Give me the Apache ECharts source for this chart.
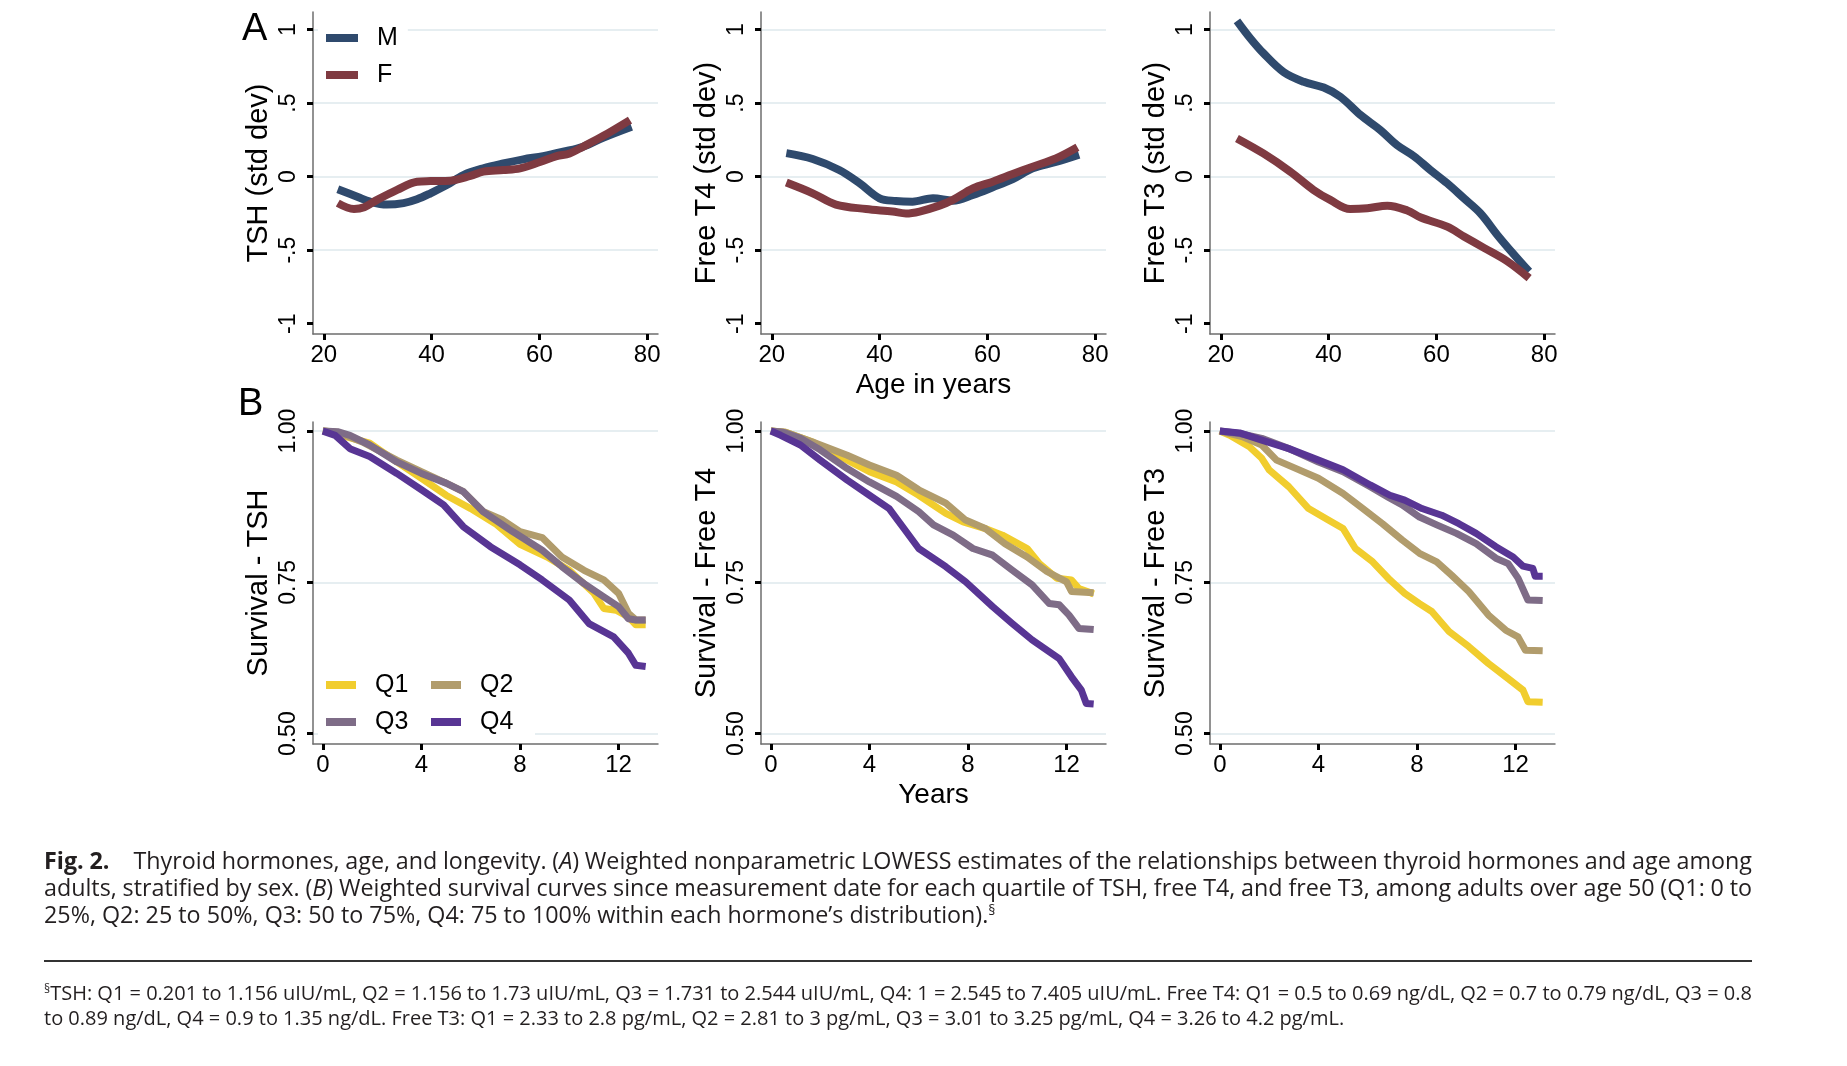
<!DOCTYPE html>
<html>
<head>
<meta charset="utf-8">
<script src="https://cdn.jsdelivr.net/npm/echarts@6/dist/echarts.min.js"></script>
<style>
html,body{margin:0;padding:0;background:#fff;}
#chart{position:absolute;left:0;top:0;width:1847px;height:1066px;}
.ln{position:absolute;left:44px;white-space:nowrap;font-family:'Open Sans',sans-serif;color:#231f20;}
.cap{font-size:23.3px;line-height:27px;}
.fn{font-size:20px;line-height:25px;}
.ln sup{font-size:0.6em;vertical-align:0.55em;line-height:0;}
#rule{position:absolute;left:44px;top:960px;width:1708px;height:2px;background:#333;}
</style>
</head>
<body>
<div id="chart"></div>
<div class="ln cap" id="c1" style="top:847px;"><b>Fig. 2.</b><span style="display:inline-block;width:24px;"></span>Thyroid hormones, age, and longevity. (<i>A</i>) Weighted nonparametric LOWESS estimates of the relationships between thyroid hormones and age among</div>
<div class="ln cap" id="c2" style="top:874px;">adults, stratified by sex. (<i>B</i>) Weighted survival curves since measurement date for each quartile of TSH, free T4, and free T3, among adults over age 50 (Q1: 0 to</div>
<div class="ln cap" id="c3" style="top:901px;">25%, Q2: 25 to 50%, Q3: 50 to 75%, Q4: 75 to 100% within each hormone’s distribution).<sup>§</sup></div>
<div id="rule"></div>
<div class="ln fn" id="f1" style="top:980px;"><sup>§</sup>TSH: Q1 = 0.201 to 1.156 uIU/mL, Q2 = 1.156 to 1.73 uIU/mL, Q3 = 1.731 to 2.544 uIU/mL, Q4: 1 = 2.545 to 7.405 uIU/mL. Free T4: Q1 = 0.5 to 0.69 ng/dL, Q2 = 0.7 to 0.79 ng/dL, Q3 = 0.8</div>
<div class="ln fn" id="f2" style="top:1005px;">to 0.89 ng/dL, Q4 = 0.9 to 1.35 ng/dL. Free T3: Q1 = 2.33 to 2.8 pg/mL, Q2 = 2.81 to 3 pg/mL, Q3 = 3.01 to 3.25 pg/mL, Q4 = 3.26 to 4.2 pg/mL.</div>
<script>
// ---------- tick labels ----------
const stdTicks = [-1, -0.5, 0, 0.5, 1];
const stdTickLabels = ['-1', '-.5', '0', '.5', '1'];
const survTicks = [0.5, 0.75, 1];
const survTickLabels = ['0.50', '0.75', '1.00'];
const ageTicks = [20, 40, 60, 80];
const yearTicks = [0, 4, 8, 12];

// ---------- Panel A: LOWESS (std dev) by age ----------
const tshAgeM = [22.6, 26.2, 28.6, 31.7, 34.8, 37.3, 39.8, 42.8, 45.9, 49.6, 53.3, 57, 60.7, 64.4, 68.1, 71.8, 77.1];
const tshM    = [-0.086, -0.136, -0.17, -0.19, -0.18, -0.154, -0.113, -0.057, 0.011, 0.057, 0.09, 0.118, 0.14, 0.17, 0.204, 0.265, 0.34];
const tshAgeF = [22.6, 25.6, 27.5, 29.9, 33.6, 37.3, 39.8, 43.5, 47.2, 49.6, 53.3, 56.4, 60.1, 63.2, 65.6, 68.1, 71.8, 76.8];
const tshF    = [-0.18, -0.22, -0.208, -0.158, -0.09, -0.034, -0.03, -0.027, 0.005, 0.034, 0.045, 0.057, 0.1, 0.14, 0.158, 0.204, 0.276, 0.385];

const ft4AgeM = [22.7, 27.6, 32.5, 36.3, 40, 43, 46.1, 49.9, 53.6, 57.3, 61, 64.7, 68.4, 72.7, 77];
const ft4M    = [0.16, 0.12, 0.045, -0.045, -0.147, -0.165, -0.17, -0.147, -0.163, -0.124, -0.072, -0.016, 0.057, 0.1, 0.15];
const ft4AgeF = [22.7, 27.6, 31.9, 37.5, 42.4, 44.9, 47.4, 51.1, 53.6, 57.3, 61, 64.7, 68.4, 72.7, 76.7];
const ft4F    = [-0.04, -0.113, -0.19, -0.22, -0.237, -0.25, -0.237, -0.197, -0.158, -0.08, -0.034, 0.018, 0.068, 0.124, 0.2];

const ft3AgeM = [23, 25.5, 27.9, 31.7, 35.4, 39.1, 42.2, 45.9, 49.6, 52.7, 55.8, 58.9, 62, 65.1, 68.2, 71.3, 74.4, 77.2];
const ft3M    = [1.06, 0.94, 0.84, 0.71, 0.645, 0.606, 0.543, 0.42, 0.317, 0.215, 0.14, 0.045, -0.045, -0.147, -0.25, -0.396, -0.53, -0.645];
const ft3AgeF = [23, 27.9, 32.9, 37.2, 40.3, 44, 47.2, 50.9, 54.6, 57.1, 62, 65.1, 68.9, 73.2, 77.2];
const ft3F    = [0.26, 0.158, 0.034, -0.09, -0.158, -0.22, -0.215, -0.197, -0.23, -0.278, -0.34, -0.407, -0.486, -0.577, -0.69];

// ---------- Panel B: survival by quartile ----------
const tshQ1t = [0, 0.5, 1, 1.9, 3, 4, 5, 6, 7, 8, 9.1, 10, 11, 11.4, 11.9, 12.4, 12.7, 13.1];
const tshQ1s = [1, 0.998, 0.99, 0.98, 0.949, 0.922, 0.894, 0.872, 0.847, 0.813, 0.792, 0.77, 0.732, 0.707, 0.704, 0.693, 0.68, 0.68];
const tshQ2t = [0, 0.6, 1.6, 3, 4, 5, 5.7, 6.5, 7.3, 8, 8.9, 9.7, 10.6, 11.4, 12, 12.4, 12.7, 13.1];
const tshQ2s = [1, 0.998, 0.982, 0.952, 0.933, 0.914, 0.9, 0.867, 0.853, 0.834, 0.824, 0.792, 0.77, 0.754, 0.732, 0.699, 0.688, 0.688];
const tshQ3t = [0, 0.6, 1.1, 1.9, 3, 4, 5, 5.7, 6.5, 7.7, 8.9, 9.7, 10.6, 11.4, 12, 12.4, 12.7, 13.1];
const tshQ3s = [1, 0.999, 0.993, 0.977, 0.949, 0.93, 0.914, 0.9, 0.867, 0.834, 0.803, 0.776, 0.748, 0.726, 0.71, 0.69, 0.688, 0.688];
const tshQ4t = [0, 0.5, 1.1, 1.9, 3, 4, 4.9, 5.7, 6.8, 8, 8.9, 10, 10.8, 11.8, 12.4, 12.7, 13.1];
const tshQ4s = [1, 0.993, 0.971, 0.958, 0.93, 0.903, 0.878, 0.842, 0.809, 0.779, 0.754, 0.721, 0.682, 0.66, 0.633, 0.613, 0.611];

const ft4Q1t = [0, 0.6, 1.7, 3.1, 4, 5.1, 6, 7.1, 7.8, 8.7, 9.4, 10.4, 10.9, 11.6, 12.2, 12.5, 13.1];
const ft4Q1s = [1, 0.998, 0.982, 0.952, 0.933, 0.916, 0.894, 0.864, 0.85, 0.839, 0.828, 0.806, 0.781, 0.757, 0.754, 0.74, 0.731];
const ft4Q2t = [0, 0.6, 1.7, 3.1, 4, 5.1, 6, 7.1, 7.9, 8.7, 9.5, 10.4, 11.2, 12, 12.2, 13.1];
const ft4Q2s = [1, 0.998, 0.982, 0.96, 0.944, 0.927, 0.903, 0.881, 0.853, 0.839, 0.814, 0.792, 0.768, 0.751, 0.735, 0.733];
const ft4Q3t = [0, 0.5, 1.2, 2, 3.1, 4, 5.1, 6, 6.6, 7.4, 8.2, 9, 9.8, 10.6, 11.3, 11.7, 12.1, 12.5, 13.1];
const ft4Q3s = [1, 0.998, 0.988, 0.969, 0.938, 0.916, 0.892, 0.867, 0.845, 0.828, 0.806, 0.795, 0.77, 0.746, 0.715, 0.713, 0.696, 0.674, 0.672];
const ft4Q4t = [0, 0.4, 1.2, 2, 3.1, 4, 4.8, 5.4, 6, 7.1, 7.9, 9, 9.8, 10.6, 11.7, 12.2, 12.6, 12.8, 13.1];
const ft4Q4s = [1, 0.993, 0.977, 0.952, 0.919, 0.894, 0.872, 0.839, 0.806, 0.776, 0.751, 0.71, 0.682, 0.655, 0.624, 0.594, 0.572, 0.55, 0.549];

const ft3Q1t = [0, 0.4, 1.2, 1.7, 2, 2.8, 3.6, 4.4, 5, 5.5, 6.2, 6.9, 7.5, 8.1, 8.6, 9.3, 10.1, 10.9, 11.7, 12.3, 12.5, 13.1];
const ft3Q1s = [1, 0.993, 0.974, 0.955, 0.936, 0.908, 0.872, 0.853, 0.839, 0.806, 0.784, 0.754, 0.732, 0.715, 0.702, 0.669, 0.644, 0.616, 0.591, 0.572, 0.553, 0.552];
const ft3Q2t = [0, 0.9, 1.7, 2.3, 3.1, 4, 5, 5.8, 6.6, 7.4, 8.1, 8.8, 9.4, 10.1, 10.9, 11.6, 12.1, 12.4, 13.1];
const ft3Q2s = [1, 0.991, 0.977, 0.952, 0.938, 0.922, 0.897, 0.872, 0.847, 0.82, 0.798, 0.784, 0.762, 0.735, 0.696, 0.671, 0.66, 0.638, 0.637];
const ft3Q3t = [0, 0.8, 1.7, 2.8, 4, 5, 6.1, 6.9, 7.4, 8.1, 8.8, 9.6, 10.4, 11.2, 11.7, 12.1, 12.5, 13.1];
const ft3Q3s = [1, 0.996, 0.988, 0.971, 0.949, 0.933, 0.908, 0.889, 0.878, 0.858, 0.845, 0.831, 0.814, 0.79, 0.781, 0.757, 0.721, 0.72];
const ft3Q4t = [0, 0.8, 1.7, 2.8, 4, 5, 6.1, 6.9, 7.5, 8.2, 9, 9.7, 10.4, 11.2, 11.9, 12.3, 12.7, 12.8, 13.1];
const ft3Q4s = [1, 0.997, 0.985, 0.971, 0.952, 0.936, 0.911, 0.894, 0.886, 0.872, 0.861, 0.847, 0.831, 0.809, 0.792, 0.777, 0.773, 0.76, 0.76];

// ---------- styling ----------
const FONT = "'Liberation Sans', Arial, Helvetica, sans-serif";
const COL = { M: '#2f4a6d', F: '#7f3a41', Q1: '#f1cd2e', Q2: '#b19c6c', Q3: '#7e6c87', Q4: '#583594' };
const GRID_COL = '#e6eef1';
const AXIS_COL = '#6e6e6e';

function labelFor(ticks, labels) {
  return v => { const i = ticks.findIndex(t => Math.abs(t - v) < 1e-6); return i >= 0 ? labels[i] : ''; };
}

const gridPos = [
  { left: 313, top: 12, width: 345, height: 322 },
  { left: 761, top: 12, width: 345, height: 322 },
  { left: 1210, top: 12, width: 345, height: 322 },
  { left: 313, top: 422, width: 345, height: 322 },
  { left: 761, top: 422, width: 345, height: 322 },
  { left: 1210, top: 422, width: 345, height: 322 }
];

function yAxis(i, name, isA) {
  const ticks = isA ? stdTicks : survTicks;
  const labels = isA ? stdTickLabels : survTickLabels;
  return {
    gridIndex: i, type: 'value',
    min: isA ? -1.07 : 0.483, max: isA ? 1.12 : 1.015,
    name: name, nameLocation: 'middle', nameGap: 40, nameRotate: 90,
    nameTextStyle: { fontFamily: FONT, fontSize: 29, color: '#000' },
    axisLine: { show: true, onZero: false, lineStyle: { color: AXIS_COL, width: 1.5 } },
    axisTick: { show: true, length: 6, customValues: ticks, lineStyle: { color: '#000', width: 3 } },
    axisLabel: { customValues: ticks, rotate: 90, margin: 13, fontFamily: FONT, fontSize: 23, color: '#000', formatter: labelFor(ticks, labels) },
    splitLine: { show: true, lineStyle: { color: isA ? ['rgba(0,0,0,0)', GRID_COL, GRID_COL, GRID_COL, GRID_COL] : GRID_COL, width: 2 } }
  };
}
function xAxis(i, name, isA) {
  const ticks = isA ? ageTicks : yearTicks;
  return {
    gridIndex: i, type: 'value',
    min: isA ? 18 : -0.4, max: isA ? 82 : 13.6,
    name: name, nameLocation: 'middle', nameGap: 37,
    nameTextStyle: { fontFamily: FONT, fontSize: 28, color: '#000' },
    axisLine: { show: true, onZero: false, lineStyle: { color: AXIS_COL, width: 1.5 } },
    axisTick: { show: true, length: 6, customValues: ticks, lineStyle: { color: '#000', width: 3 } },
    axisLabel: { customValues: ticks, margin: 9, fontFamily: FONT, fontSize: 24, color: '#000' },
    splitLine: { show: false }
  };
}
function line(name, xs, ys, idx, width, smooth) {
  return {
    type: 'line', name: name, xAxisIndex: idx, yAxisIndex: idx,
    data: xs.map((x, k) => [x, ys[k]]),
    showSymbol: false, symbol: 'none', smooth: smooth, silent: true,
    lineStyle: { color: COL[name], width: width, cap: 'butt', join: 'round' },
    itemStyle: { color: COL[name] }
  };
}

const series = [
  line('M', tshAgeM, tshM, 0, 8, 0.35), line('F', tshAgeF, tshF, 0, 8, 0.35),
  line('M', ft4AgeM, ft4M, 1, 8, 0.35), line('F', ft4AgeF, ft4F, 1, 8, 0.35),
  line('M', ft3AgeM, ft3M, 2, 8, 0.35), line('F', ft3AgeF, ft3F, 2, 8, 0.35),
  line('Q1', tshQ1t, tshQ1s, 3, 7, false), line('Q2', tshQ2t, tshQ2s, 3, 7, false),
  line('Q3', tshQ3t, tshQ3s, 3, 7, false), line('Q4', tshQ4t, tshQ4s, 3, 7, false),
  line('Q1', ft4Q1t, ft4Q1s, 4, 7, false), line('Q2', ft4Q2t, ft4Q2s, 4, 7, false),
  line('Q3', ft4Q3t, ft4Q3s, 4, 7, false), line('Q4', ft4Q4t, ft4Q4s, 4, 7, false),
  line('Q1', ft3Q1t, ft3Q1s, 5, 7, false), line('Q2', ft3Q2t, ft3Q2s, 5, 7, false),
  line('Q3', ft3Q3t, ft3Q3s, 5, 7, false), line('Q4', ft3Q4t, ft3Q4s, 5, 7, false)
];

const legendText = { fontFamily: FONT, fontSize: 25, color: '#000', lineHeight: 26, padding: [0, 0, 0, 14] };

const option = {
  animation: false,
  backgroundColor: '#fff',
  grid: gridPos.map(g => Object.assign({ containLabel: false }, g)),
  xAxis: [
    xAxis(0, '', true), xAxis(1, 'Age in years', true), xAxis(2, '', true),
    xAxis(3, '', false), xAxis(4, 'Years', false), xAxis(5, '', false)
  ],
  yAxis: [
    yAxis(0, 'TSH (std dev)', true), yAxis(1, 'Free T4 (std dev)', true), yAxis(2, 'Free T3 (std dev)', true),
    yAxis(3, 'Survival - TSH', false), yAxis(4, 'Survival - Free T4', false), yAxis(5, 'Survival - Free T3', false)
  ],
  legend: [
    { data: ['M', 'F'], orient: 'vertical', left: 318, top: 17, icon: 'rect', itemWidth: 32, itemHeight: 8, itemGap: 11,
      padding: [8, 10, 8, 8], backgroundColor: '#fff', selectedMode: false, itemStyle: { borderWidth: 0 },
      textStyle: legendText },
    { data: ['Q1', 'Q2', 'Q3', 'Q4'], orient: 'horizontal', left: 318, top: 664, width: 215, icon: 'rect', itemWidth: 30, itemHeight: 8, itemGap: 11,
      padding: [8, 10, 8, 8], backgroundColor: '#fff', selectedMode: false, itemStyle: { borderWidth: 0 },
      textStyle: Object.assign({}, legendText, { width: 45 }) }
  ],
  graphic: [
    { type: 'text', left: 242, top: 11, style: { text: 'A', fontFamily: FONT, fontSize: 38, fill: '#000' } },
    { type: 'text', left: 238, top: 386, style: { text: 'B', fontFamily: FONT, fontSize: 38, fill: '#000' } }
  ],
  series: series
};

const chart = echarts.init(document.getElementById('chart'), null, { renderer: 'canvas' });
chart.setOption(option);

// justify full caption lines to the text block width
function justify(id, target) {
  const el = document.getElementById(id);
  el.style.wordSpacing = '0px';
  const w = el.getBoundingClientRect().width;
  const n = (el.textContent.match(/ /g) || []).length;
  if (n > 0) el.style.wordSpacing = ((target - w) / n) + 'px';
}
function doJustify() { justify('c1', 1708); justify('c2', 1708); justify('f1', 1708); }
doJustify();
if (document.fonts && document.fonts.ready) document.fonts.ready.then(doJustify);
</script>
</body>
</html>
